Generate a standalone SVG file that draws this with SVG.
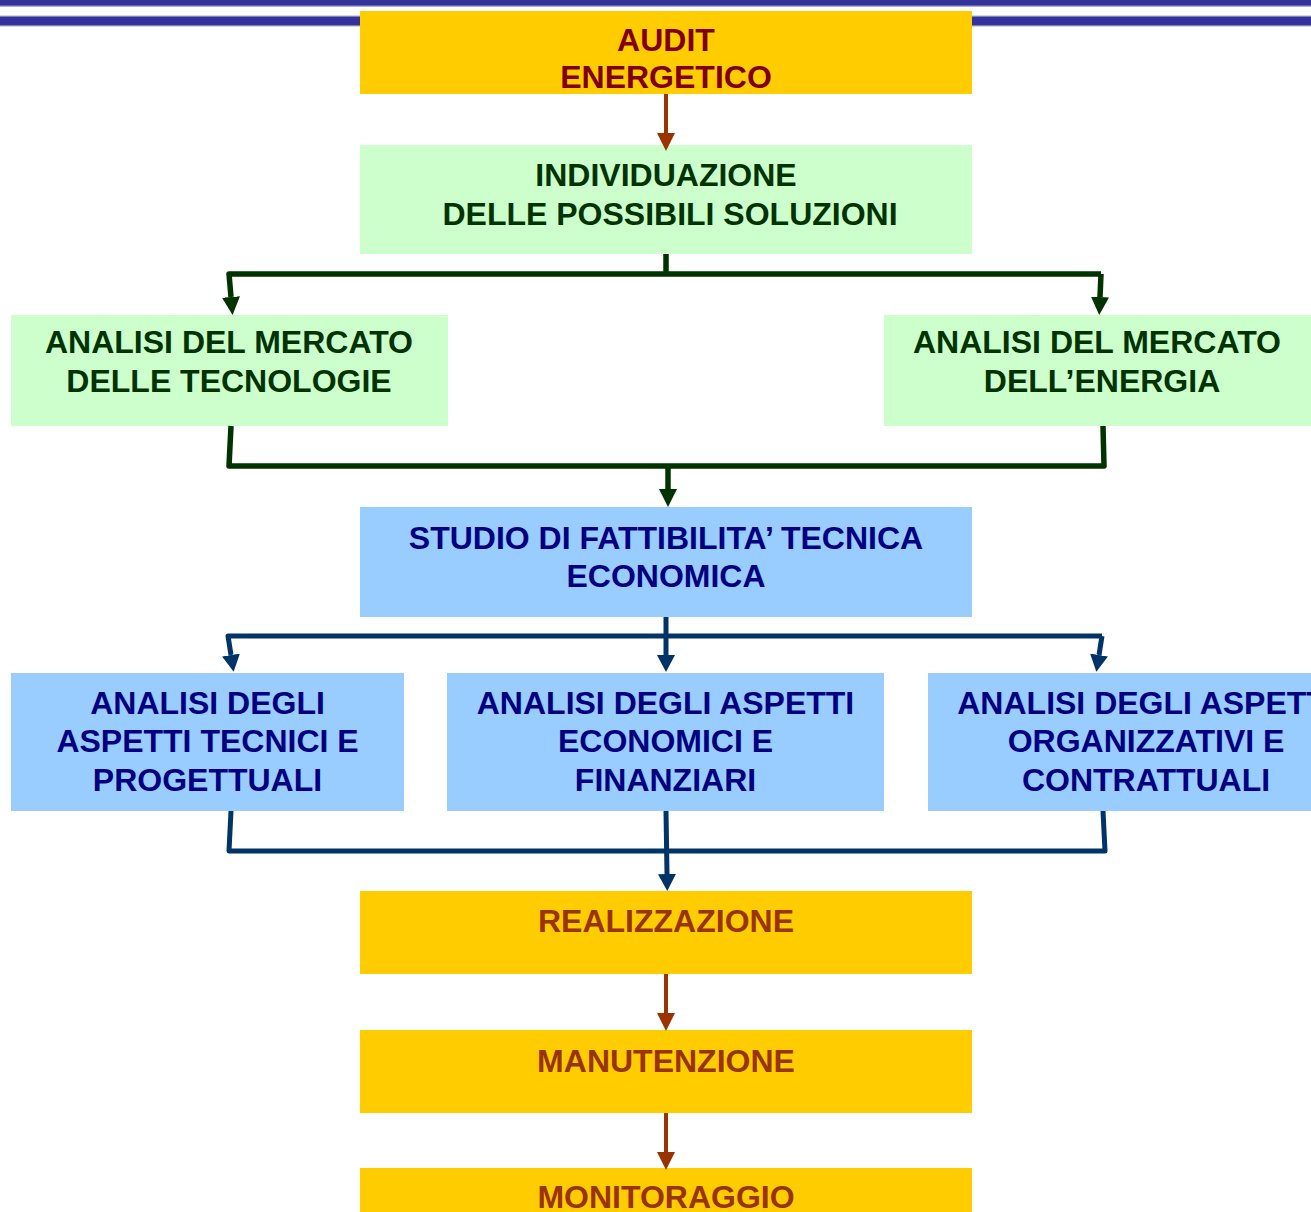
<svg xmlns="http://www.w3.org/2000/svg" width="1311" height="1212" viewBox="0 0 1311 1212">
  <defs>
    <linearGradient id="bar1" x1="0" y1="0" x2="0" y2="1">
      <stop offset="0" stop-color="#333399"/>
      <stop offset="0.65" stop-color="#333399"/>
      <stop offset="1" stop-color="#333399" stop-opacity="0"/>
    </linearGradient>
    <linearGradient id="bar2" x1="0" y1="0" x2="0" y2="1">
      <stop offset="0" stop-color="#333399" stop-opacity="0"/>
      <stop offset="0.2" stop-color="#333399"/>
      <stop offset="0.8" stop-color="#333399"/>
      <stop offset="1" stop-color="#333399" stop-opacity="0"/>
    </linearGradient>
    <marker id="ahGreen" markerUnits="userSpaceOnUse" markerWidth="18" markerHeight="18" viewBox="0 0 18 18" refX="0" refY="9" orient="auto">
      <path d="M0,0 L18,9 L0,18 z" fill="#003300"/>
    </marker>
    <marker id="ahBlue" markerUnits="userSpaceOnUse" markerWidth="17" markerHeight="18" viewBox="0 0 17 18" refX="0" refY="9" orient="auto">
      <path d="M0,0 L17,9 L0,18 z" fill="#003366"/>
    </marker>
    <marker id="ahBrown" markerUnits="userSpaceOnUse" markerWidth="18" markerHeight="18" viewBox="0 0 18 18" refX="0" refY="9" orient="auto">
      <path d="M0,0 L18,9 L0,18 z" fill="#993300"/>
    </marker>
  </defs>
  <style>
    text { font-family: "Liberation Sans", Arial, sans-serif; font-weight: bold; font-size: 32px; text-anchor: middle; }
    .yellow { fill: #FFCC00; }
    .green { fill: #CCFFCC; }
    .blue { fill: #99CCFF; }
    .tRed { fill: #800000; }
    .tBrown { fill: #993300; }
    .tGreen { fill: #003300; }
    .tBlue { fill: #000080; }
    .cg { fill: none; stroke: #003300; stroke-width: 5.5; stroke-linejoin: round; }
    .cb { fill: none; stroke: #003366; stroke-width: 5; stroke-linejoin: round; }
    .cr { fill: none; stroke: #993300; stroke-width: 4; }
  </style>

  <g id="header">
    <rect x="0" y="0" width="1311" height="7.5" fill="url(#bar1)"/>
    <rect x="0" y="15" width="1311" height="12" fill="url(#bar2)"/>
  </g>

  <g id="node-audit">
    <rect class="yellow" x="360" y="11" width="612" height="83"/>
    <text class="tRed" x="666" y="51">AUDIT</text>
    <text class="tRed" x="666" y="87.5">ENERGETICO</text>
  </g>

  <g id="node-individuazione">
    <rect class="green" x="360" y="145" width="612" height="109"/>
    <text class="tGreen" x="666" y="186">INDIVIDUAZIONE</text>
    <text class="tGreen" x="670" y="224.5">DELLE POSSIBILI SOLUZIONI</text>
  </g>

  <g id="node-mercato-tecnologie">
    <rect class="green" x="11" y="315" width="437" height="111"/>
    <text class="tGreen" x="229" y="353">ANALISI DEL MERCATO</text>
    <text class="tGreen" x="229" y="391.5">DELLE TECNOLOGIE</text>
  </g>

  <g id="node-mercato-energia">
    <rect class="green" x="884" y="315" width="427" height="111"/>
    <text class="tGreen" x="1097" y="353">ANALISI DEL MERCATO</text>
    <text class="tGreen" x="1102" y="391.5">DELL’ENERGIA</text>
  </g>

  <g id="node-studio">
    <rect class="blue" x="360" y="507" width="612" height="110"/>
    <text class="tBlue" x="666" y="549">STUDIO DI FATTIBILITA’ TECNICA</text>
    <text class="tBlue" x="666" y="587">ECONOMICA</text>
  </g>

  <g id="node-tecnici">
    <rect class="blue" x="11" y="673" width="393" height="138"/>
    <text class="tBlue" x="207.5" y="713.5">ANALISI DEGLI</text>
    <text class="tBlue" x="207.5" y="752">ASPETTI TECNICI E</text>
    <text class="tBlue" x="207.5" y="790.5">PROGETTUALI</text>
  </g>

  <g id="node-economici">
    <rect class="blue" x="447" y="673" width="437" height="138"/>
    <text class="tBlue" x="665.5" y="713.5">ANALISI DEGLI ASPETTI</text>
    <text class="tBlue" x="665.5" y="752">ECONOMICI E</text>
    <text class="tBlue" x="665.5" y="790.5">FINANZIARI</text>
  </g>

  <g id="node-organizzativi">
    <rect class="blue" x="928" y="673" width="436" height="138"/>
    <text class="tBlue" x="1146" y="713.5">ANALISI DEGLI ASPETTI</text>
    <text class="tBlue" x="1146" y="752">ORGANIZZATIVI E</text>
    <text class="tBlue" x="1146" y="790.5">CONTRATTUALI</text>
  </g>

  <g id="node-realizzazione">
    <rect class="yellow" x="360" y="891" width="612" height="83"/>
    <text class="tBrown" x="666" y="932">REALIZZAZIONE</text>
  </g>

  <g id="node-manutenzione">
    <rect class="yellow" x="360" y="1030" width="612" height="83"/>
    <text class="tBrown" x="666" y="1072">MANUTENZIONE</text>
  </g>

  <g id="node-monitoraggio">
    <rect class="yellow" x="360" y="1168" width="612" height="83"/>
    <text class="tBrown" x="666" y="1208">MONITORAGGIO</text>
  </g>

  <g id="connectors">
    <path class="cr" d="M666,94 V133" marker-end="url(#ahBrown)"/>

    <path class="cg" d="M666,254 V274"/>
    <path class="cg" d="M1101,274 H229 L231,297" marker-end="url(#ahGreen)"/>
    <path class="cg" d="M1101,274 L1100,297" marker-end="url(#ahGreen)"/>

    <path class="cg" d="M231,426 L229,466 H1104 L1103,426"/>
    <path class="cg" d="M668,466 V489" marker-end="url(#ahGreen)"/>

    <path class="cb" d="M666,617 V636"/>
    <path class="cb" d="M1102,636 H228 L231,655" marker-end="url(#ahBlue)"/>
    <path class="cb" d="M1102,636 L1099,655" marker-end="url(#ahBlue)"/>
    <path class="cb" d="M666,636 V655" marker-end="url(#ahBlue)"/>

    <path class="cb" d="M231,811 L229,851 H1105 L1103,811"/>
    <path class="cb" d="M666,811 L667,874" marker-end="url(#ahBlue)"/>

    <path class="cr" d="M666,974 V1013" marker-end="url(#ahBrown)"/>
    <path class="cr" d="M666,1113 V1152" marker-end="url(#ahBrown)"/>
  </g>
</svg>
